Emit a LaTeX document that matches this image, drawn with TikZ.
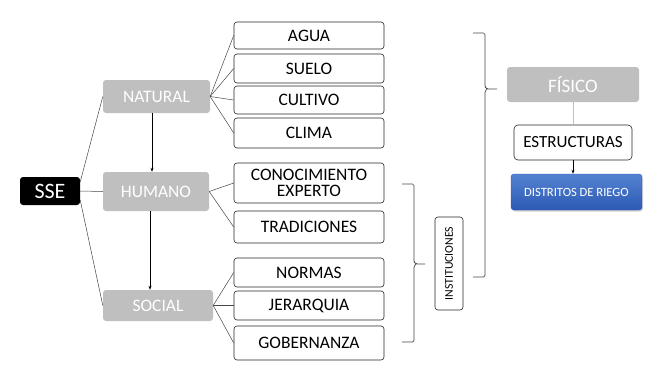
\documentclass[tikz,border=0pt]{standalone}
\usepackage{fontspec}
\setmainfont{Carlito}
\usetikzlibrary{arrows.meta,shadows}
\definecolor{boxgrey}{RGB}{191,191,191}
\definecolor{linegrey}{RGB}{70,70,70}
\definecolor{blueTop}{RGB}{84,130,210}
\definecolor{blueBot}{RGB}{44,90,180}
\tikzset{
  greybox/.style={fill=boxgrey, rounded corners=3pt, text=white, inner sep=0pt, font=\fontsize{17.5}{19}\selectfont},
  itembox/.style={draw=black!85, fill=white, rounded corners=3pt, line width=0.6pt, inner sep=0pt, minimum width=150pt, font=\fontsize{17.5}{17}\selectfont, align=center},
  conn/.style={draw=linegrey, line width=0.5pt},
  arr/.style={draw=black, line width=0.6pt, -{Stealth[length=4pt,width=3pt]}},
  bracket/.style={draw=linegrey, line width=0.7pt, rounded corners=1.5pt}
}
\begin{document}
\begin{tikzpicture}[x=1pt,y=-1pt]
\useasboundingbox (0,0) rectangle (659,380);
% main nodes
\node[fill=black, rounded corners=3pt, text=white, inner sep=0pt, minimum width=60pt, minimum height=28pt, font=\fontsize{22}{24}\selectfont] (SSE) at (50,191) {SSE};
\node[greybox, minimum width=107pt, minimum height=33pt] (NAT) at (156.5,96.5) {NATURAL};
\node[greybox, minimum width=106pt, minimum height=39pt] (HUM) at (156,191.5) {HUMANO};
\node[greybox, minimum width=110pt, minimum height=31pt] (SOC) at (158,305.5) {SOCIAL};
% items
\node[itembox, minimum height=27pt] (AGUA) at (309,35.5) {AGUA};
\node[itembox, minimum height=29pt] (SUELO) at (309,68.5) {SUELO};
\node[itembox, minimum height=28pt] (CULT) at (309,100) {CULTIVO};
\node[itembox, minimum height=30pt] (CLIMA) at (309,133) {CLIMA};
\node[itembox, minimum height=40pt] (CONO) at (309,183) {CONOCIMIENTO\\[-1pt]EXPERTO};
\node[itembox, minimum height=32pt] (TRAD) at (309,227) {TRADICIONES};
\node[itembox, minimum height=29pt] (NORM) at (309,272.5) {NORMAS};
\node[itembox, minimum height=29pt] (JER) at (309,305.5) {JERARQUIA};
\node[itembox, minimum height=34pt] (GOB) at (309,343) {GOBERNANZA};
% institutions
\node[draw=black!85, fill=white, rounded corners=3pt, line width=0.6pt, inner sep=0pt, minimum width=28pt, minimum height=93pt] (INST) at (449,263.5) {};
\node[rotate=90, font=\fontsize{11.8}{12}\selectfont, inner sep=0pt] (INSTT) at (INST.center) {INSTITUCIONES};
% physical
\node[greybox, minimum width=132pt, minimum height=35pt, font=\fontsize{19}{20}\selectfont] (FIS) at (573,84.5) {FÍSICO};
\node[draw=black!85, fill=white, rounded corners=4pt, line width=0.6pt, inner sep=0pt, minimum width=118pt, minimum height=35pt, font=\fontsize{17}{18}\selectfont] (EST) at (573,142.5) {ESTRUCTURAS};
\node[rounded corners=3pt, top color=blueTop, bottom color=blueBot, draw=blueBot, text=white, inner sep=0pt, minimum width=131pt, minimum height=36pt, font=\fontsize{12.6}{13}\selectfont, drop shadow={opacity=0.35, shadow xshift=1pt, shadow yshift=-1.5pt}] (DIST) at (576.5,192) {DISTRITOS DE RIEGO};
% connectors
\draw[conn] ([yshift=9pt]SSE.east) -- (NAT.west);
\draw[conn] (SSE.east) -- (HUM.west);
\draw[conn] ([yshift=-9pt]SSE.east) -- (SOC.west);
\foreach \t in {AGUA,SUELO,CULT,CLIMA} \draw[conn] (NAT.east) -- (\t.west);
\foreach \t in {CONO,TRAD} \draw[conn] (HUM.east) -- (\t.west);
\foreach \t in {NORM,JER,GOB} \draw[conn] (SOC.east) -- (\t.west);
\draw[arr] ([xshift=-4.5pt]NAT.south) -- ([xshift=-4pt]HUM.north);
\draw[arr] ([xshift=-6pt]HUM.south) -- ([xshift=-8pt]SOC.north);
\draw[draw=boxgrey, line width=0.7pt] (FIS.south) -- (EST.north);
\draw[arr] (EST.south) -- (EST.south |- DIST.north);
% braces
\coordinate (b1top) at (402,184);
\coordinate (b1tip) at (425,264);
\coordinate (b1bot) at (402,342);
\draw[bracket] (b1top) -| (414,262) -- (416,264) -- (b1tip);
\draw[bracket] (416,264) -- (414,266) |- (b1bot);
\coordinate (b2top) at (473,33);
\coordinate (b2tip) at (497,89);
\coordinate (b2bot) at (473,277);
\draw[bracket] (b2top) -| (485,87) -- (487,89) -- (b2tip);
\draw[bracket] (487,89) -- (485,91) |- (b2bot);
\end{tikzpicture}
\end{document}
